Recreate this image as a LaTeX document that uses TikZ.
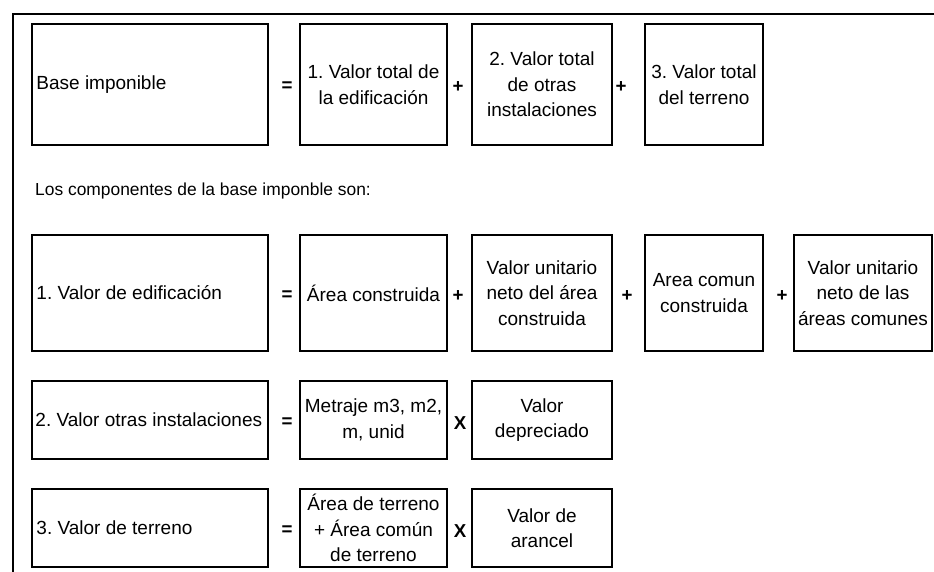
\documentclass[tikz,border=0pt]{standalone}
\usepackage{fontspec}
\setmainfont{Liberation Sans}
\begin{document}
\frenchspacing
\begin{tikzpicture}[x=1pt,y=-1pt,
  every node/.style={font=\fontsize{19}{25.5}\selectfont},
  box/.style={draw,line width=1.5pt,inner sep=0pt,align=center},
  lbl/.style={anchor=west,inner sep=0pt},
  op/.style={font=\fontsize{18.7}{22}\selectfont\bfseries,inner sep=0pt}]
\useasboundingbox (0,0) rectangle (934,572);
\draw[line width=1.5pt] (13,572) -- (13,14) -- (934,14);
% Row 1
\node[box,minimum width=236pt,minimum height=121pt] (bi) at (150,84.5) {};
\node[lbl] (bit) at ([xshift=5pt]bi.west) {Base imponible};
\node[op] (eq1) at (287,87) {=};
\node[box,minimum width=147pt,minimum height=121pt] (vte) at (373.5,84.5) {1. Valor total de\\la edificación};
\node[op] (p11) at (458,87) {+};
\node[box,minimum width=140pt,minimum height=121pt] (vto) at (542,84.5) {2. Valor total\\de otras\\instalaciones};
\node[op] (p12) at (621,87) {+};
\node[box,minimum width=118pt,minimum height=121pt] (vtt) at (704,84.5) {3. Valor total\\del terreno};
% Caption
\node[anchor=west,inner sep=0pt,font=\fontsize{17.4}{21}\selectfont] (cap) at (35,191) {Los componentes de la base imponble son:};
% Row 2
\node[box,minimum width=236pt,minimum height=116pt] (ve) at (150,293) {};
\node[lbl] (vet) at ([xshift=5pt]ve.west) {1. Valor de edificación};
\node[op] (eq2) at (287,296) {=};
\node[box,minimum width=147pt,minimum height=116pt] (ac) at (373.5,293) {Área construida};
\node[op] (p21) at (458,296) {+};
\node[box,minimum width=140pt,minimum height=116pt] (vua) at (542,293) {Valor unitario\\neto del área\\construida};
\node[op] (p22) at (627,296) {+};
\node[box,minimum width=118pt,minimum height=116pt] (acc) at (704,293) {Area comun\\construida};
\node[op] (p23) at (782,296) {+};
\node[box,minimum width=138pt,minimum height=116pt] (vuc) at (863,293) {Valor unitario\\neto de las\\áreas comunes};
% Row 3
\node[box,minimum width=236pt,minimum height=78pt] (voi) at (150,420) {};
\node[lbl] (voit) at ([xshift=4pt]voi.west) {2. Valor otras instalaciones};
\node[op] (eq3) at (287,423) {=};
\node[box,minimum width=147pt,minimum height=78pt] (met) at (373.5,420) {Metraje m3, m2,\\m, unid};
\node[op] (x3) at (460,423) {X};
\node[box,minimum width=140pt,minimum height=78pt] (vd) at (542,420) {Valor\\depreciado};
% Row 4
\node[box,minimum width=236pt,minimum height=78pt] (vt) at (150,528) {};
\node[lbl] (vtt2) at ([xshift=5pt]vt.west) {3. Valor de terreno};
\node[op] (eq4) at (287,531) {=};
\node[box,minimum width=147pt,minimum height=78pt] (at) at (373.5,528) {Área de terreno\\+ Área común\\de terreno};
\node[op] (x4) at (460,531) {X};
\node[box,minimum width=140pt,minimum height=78pt] (va) at (542,528) {Valor de\\arancel};
\end{tikzpicture}
\end{document}
